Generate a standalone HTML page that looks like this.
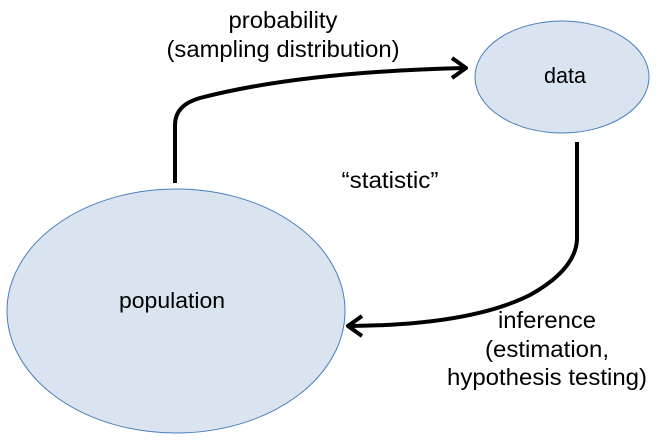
<!DOCTYPE html>
<html><head><style>
body{margin:0;background:#fff;}
svg{display:block;}
text{font-family:"Liberation Sans",sans-serif;fill:#000;}
</style></head><body>
<svg width="658" height="446" viewBox="0 0 658 446">
<ellipse cx="176" cy="311" rx="169" ry="122" fill="#dae3f0" stroke="#4a7ebb" stroke-width="1"/>
<ellipse cx="562" cy="77" rx="87" ry="56" fill="#dae3f0" stroke="#4a7ebb" stroke-width="1"/>
<text x="172" y="308" font-size="22" text-anchor="middle" textLength="106" lengthAdjust="spacingAndGlyphs">population</text>
<text x="565" y="83" font-size="22" text-anchor="middle" textLength="42" lengthAdjust="spacingAndGlyphs">data</text>
<path d="M175,183 L175,125 Q175,105 200,98 Q300,72 464,68" fill="none" stroke="#000" stroke-width="4"/>
<path d="M452,58 L466,68 L452,78" fill="none" stroke="#000" stroke-width="4" stroke-linejoin="round"/>
<path d="M577,142 L577,240 Q575,270 530,295 Q470,325 350,326" fill="none" stroke="#000" stroke-width="4"/>
<path d="M362,316 L348,326 L362,336" fill="none" stroke="#000" stroke-width="4" stroke-linejoin="round"/>
<text x="283" y="28" font-size="23" text-anchor="middle" textLength="109" lengthAdjust="spacingAndGlyphs">probability</text>
<text x="283" y="57" font-size="23" text-anchor="middle" textLength="233" lengthAdjust="spacingAndGlyphs">(sampling distribution)</text>
<text x="390" y="188" font-size="23" text-anchor="middle" textLength="97" lengthAdjust="spacingAndGlyphs">“statistic”</text>
<text x="547" y="328" font-size="23" text-anchor="middle" textLength="98" lengthAdjust="spacingAndGlyphs">inference</text>
<text x="547" y="357" font-size="23" text-anchor="middle" textLength="124" lengthAdjust="spacingAndGlyphs">(estimation,</text>
<text x="547" y="385" font-size="23" text-anchor="middle" textLength="200" lengthAdjust="spacingAndGlyphs">hypothesis testing)</text>
</svg>
</body></html>
